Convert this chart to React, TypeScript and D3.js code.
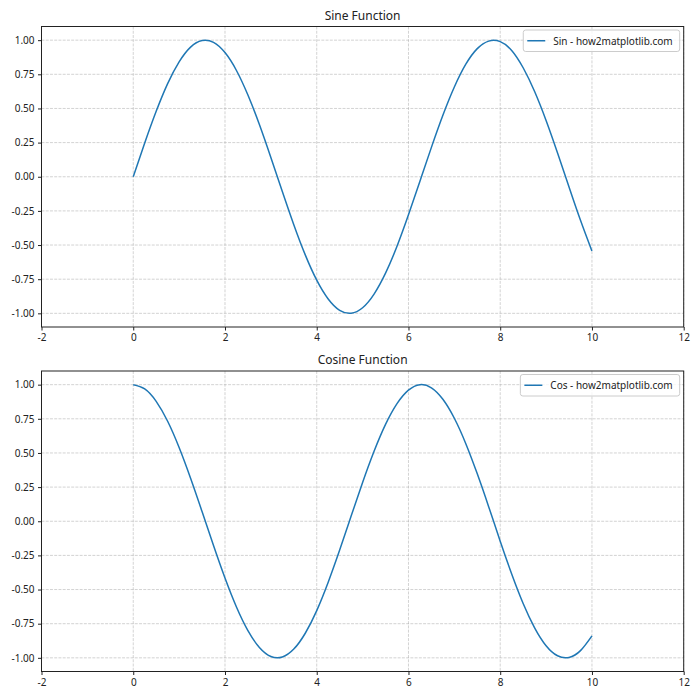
import React, { useEffect, useRef } from "react";
import * as d3 from "d3";

const xValues: number[] = [
  0, 0.25, 0.5, 0.75, 1, 1.25, 1.5, 1.75, 2, 2.25, 2.5, 2.75, 3, 3.25, 3.5, 3.75, 4, 4.25, 4.5, 4.75,
  5, 5.25, 5.5, 5.75, 6, 6.25, 6.5, 6.75, 7, 7.25, 7.5, 7.75, 8, 8.25, 8.5, 8.75, 9, 9.25, 9.5, 9.75, 10,
];
const sinValues: number[] = [
  0.0, 0.247, 0.479, 0.682, 0.841, 0.949, 0.997, 0.984, 0.909, 0.778, 0.598, 0.382, 0.141, -0.108,
  -0.351, -0.572, -0.757, -0.895, -0.978, -0.999, -0.959, -0.859, -0.706, -0.509, -0.279, -0.033, 0.215,
  0.45, 0.657, 0.824, 0.938, 0.993, 0.989, 0.925, 0.798, 0.624, 0.412, 0.174, -0.075, -0.319, -0.544,
];
const cosValues: number[] = [
  1.0, 0.969, 0.878, 0.732, 0.54, 0.315, 0.071, -0.178, -0.416, -0.628, -0.801, -0.924, -0.99, -0.994,
  -0.936, -0.82, -0.654, -0.446, -0.211, 0.038, 0.284, 0.512, 0.709, 0.861, 0.96, 1.0, 0.977, 0.893,
  0.754, 0.568, 0.347, 0.105, -0.146, -0.386, -0.602, -0.78, -0.911, -0.985, -0.997, -0.947, -0.839,
];
const xTicks: number[] = [-2, 0, 2, 4, 6, 8, 10, 12];
const yTicks: number[] = [-1.0, -0.75, -0.5, -0.25, 0.0, 0.25, 0.5, 0.75, 1.0];
const titles: string[] = ["Sine Function", "Cosine Function"];
const legendLabels: string[] = ["Sin - how2matplotlib.com", "Cos - how2matplotlib.com"];

const FONT = "'Noto Sans', 'DejaVu Sans', sans-serif";
const LINE = "#1f77b4";

export default function App() {
  const ref = useRef<SVGSVGElement | null>(null);

  useEffect(() => {
    const svg = d3.select(ref.current);
    svg.selectAll("*").remove();
    const left = 41.5;
    const right = 683.7;
    const panels = [
      { top: 26.5, bottom: 327, values: sinValues },
      { top: 371, bottom: 671.5, values: cosValues },
    ];
    panels.forEach((p, i) => {
      const x = d3.scaleLinear().domain([-2, 12]).range([left, right]);
      const y = d3.scaleLinear().domain([-1.1, 1.1]).range([p.bottom, p.top]);
      const g = svg.append("g");

      const gridStyle = (sel: any) =>
        sel
          .attr("stroke", "#b0b0b0")
          .attr("stroke-opacity", 0.7)
          .attr("stroke-width", 0.8)
          .attr("stroke-dasharray", "2.96,1.28");

      g.selectAll(".gx")
        .data(xTicks)
        .enter()
        .append("line")
        .attr("x1", (d) => x(d))
        .attr("x2", (d) => x(d))
        .attr("y1", p.top)
        .attr("y2", p.bottom)
        .call(gridStyle);
      g.selectAll(".gy")
        .data(yTicks)
        .enter()
        .append("line")
        .attr("x1", left)
        .attr("x2", right)
        .attr("y1", (d) => y(d))
        .attr("y2", (d) => y(d))
        .call(gridStyle);

      const pts = xValues.map((xv, k) => [xv, p.values[k]] as [number, number]);
      const line = d3
        .line<[number, number]>()
        .x((d) => x(d[0]))
        .y((d) => y(d[1]))
        .curve(d3.curveNatural);
      g.append("path")
        .attr("d", line(pts) || "")
        .attr("fill", "none")
        .attr("stroke", LINE)
        .attr("stroke-width", 1.5);

      g.append("rect")
        .attr("x", left)
        .attr("y", p.top)
        .attr("width", right - left)
        .attr("height", p.bottom - p.top)
        .attr("fill", "none")
        .attr("stroke", "#222")
        .attr("stroke-width", 1);

      const xAxis = g
        .append("g")
        .attr("transform", `translate(0,${p.bottom})`)
        .call(
          d3
            .axisBottom(x)
            .tickValues(xTicks)
            .tickSize(3.5)
            .tickPadding(3.5)
            .tickFormat((d) => String(d))
        );
      xAxis.select(".domain").remove();
      xAxis.selectAll("text").attr("font-family", FONT).attr("font-size", 10).attr("fill", "#222");
      xAxis.selectAll("line").attr("stroke", "#222");

      const yAxis = g
        .append("g")
        .attr("transform", `translate(${left},0)`)
        .call(
          d3
            .axisLeft(y)
            .tickValues(yTicks)
            .tickSize(3.5)
            .tickPadding(3.5)
            .tickFormat((d) => d3.format(".2f")(d as number).replace("−", "-"))
        );
      yAxis.select(".domain").remove();
      yAxis.selectAll("text").attr("font-family", FONT).attr("font-size", 10).attr("fill", "#222");
      yAxis.selectAll("line").attr("stroke", "#222");

      g.append("text")
        .attr("x", (left + right) / 2)
        .attr("y", p.top - 7)
        .attr("text-anchor", "middle")
        .attr("font-family", FONT)
        .attr("font-size", 12)
        .attr("fill", "#222")
        .text(titles[i]);

      const lg = g.append("g");
      const txt = lg
        .append("text")
        .attr("font-family", FONT)
        .attr("font-size", 10)
        .attr("fill", "#222")
        .attr("dominant-baseline", "central")
        .text(legendLabels[i]);
      const tw = (txt.node() as SVGTextElement).getComputedTextLength();
      const boxRight = right - 4;
      const boxW = tw + 37;
      const boxLeft = boxRight - boxW;
      const boxTop = p.top + 3.5;
      const boxH = 21.5;
      lg.insert("rect", "text")
        .attr("x", boxLeft)
        .attr("y", boxTop)
        .attr("width", boxW)
        .attr("height", boxH)
        .attr("rx", 2.5)
        .attr("fill", "white")
        .attr("fill-opacity", 0.8)
        .attr("stroke", "#cccccc")
        .attr("stroke-width", 1);
      lg.append("line")
        .attr("x1", boxLeft + 4)
        .attr("x2", boxLeft + 22)
        .attr("y1", boxTop + boxH / 2)
        .attr("y2", boxTop + boxH / 2)
        .attr("stroke", LINE)
        .attr("stroke-width", 1.5);
      txt.attr("x", boxLeft + 30).attr("y", boxTop + boxH / 2);
    });
  }, []);

  return (
    <svg
      ref={ref}
      width={700}
      height={700}
      style={{ position: "absolute", left: 0, top: 0, background: "white" }}
    />
  );
}
